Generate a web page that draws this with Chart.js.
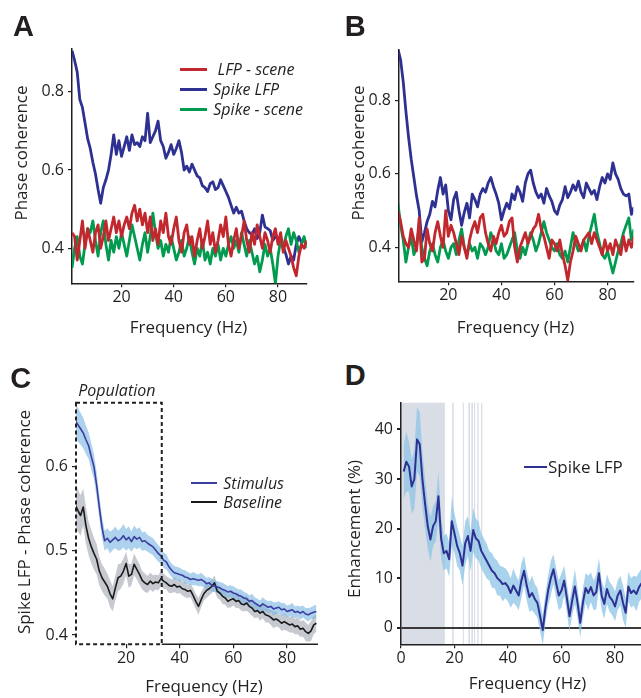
<!DOCTYPE html>
<html>
<head>
<meta charset="utf-8">
<title>Phase coherence</title>
<script src="https://cdn.jsdelivr.net/npm/chart.js@4.4.1/dist/chart.umd.min.js"></script>
<style>
  body { margin: 0; width: 641px; height: 698px; overflow: hidden; background: #fff; position: relative;
         font-family: 'Open Sans', sans-serif; color: #231f20; }
  canvas { position: absolute; }
  .lbl { position: absolute; white-space: pre; line-height: 1; }
  .letter { font-family: 'Liberation Sans', Arial, sans-serif; font-weight: bold; font-size: 29px; }
  .title { font-size: 17px; }
  .ytitle { transform: translate(-50%, -50%) rotate(-90deg); }
  .xtitle { transform: translateX(-50%); }
  .leg { font-size: 16px; font-style: italic; }
  .swatch { position: absolute; }
</style>
</head>
<body>

<canvas id="chartA" width="320" height="280" style="left:0;top:38px"></canvas>
<canvas id="chartB" width="311" height="280" style="left:330px;top:40px"></canvas>
<canvas id="chartC" width="322" height="290" style="left:0;top:392px"></canvas>
<canvas id="chartD" width="320" height="290" style="left:330px;top:392px"></canvas>

<!-- panel letters -->
<div class="lbl letter" style="left:13px;top:12.2px">A</div>
<div class="lbl letter" style="left:344.7px;top:12.2px">B</div>
<div class="lbl letter" style="left:10.2px;top:363.8px">C</div>
<div class="lbl letter" style="left:344.7px;top:360.5px">D</div>

<!-- axis titles -->
<div class="lbl title ytitle" style="left:20px;top:152.8px">Phase coherence</div>
<div class="lbl title xtitle" style="left:188.5px;top:317.7px">Frequency (Hz)</div>
<div class="lbl title ytitle" style="left:356.7px;top:153px">Phase coherence</div>
<div class="lbl title xtitle" style="left:515.5px;top:317.7px">Frequency (Hz)</div>
<div class="lbl title ytitle" style="left:22.7px;top:521.5px">Spike LFP - Phase coherence</div>
<div class="lbl title xtitle" style="left:204px;top:676.9px">Frequency (Hz)</div>
<div class="lbl title ytitle" style="left:352.5px;top:529px">Enhancement (%)</div>
<div class="lbl title xtitle" style="left:527.5px;top:674.4px">Frequency (Hz)</div>

<!-- legends -->
<div class="swatch" style="left:180px;top:68px;width:27px;height:3px;background:#c1272d"></div>
<div class="swatch" style="left:180px;top:88px;width:27px;height:3px;background:#2e3192"></div>
<div class="swatch" style="left:180px;top:108px;width:27px;height:3px;background:#009b4f"></div>
<div class="lbl leg" style="left:213.3px;top:61.3px"> LFP - scene</div>
<div class="lbl leg" style="left:213.3px;top:81.3px">Spike LFP</div>
<div class="lbl leg" style="left:213.3px;top:101.3px">Spike - scene</div>

<div class="lbl leg" style="left:78.3px;top:382.2px">Population</div>
<div class="swatch" style="left:190.7px;top:481.7px;width:26.6px;height:2px;background:#3b3ea0"></div>
<div class="swatch" style="left:190.7px;top:500.7px;width:26.6px;height:2px;background:#1a1a1a"></div>
<div class="lbl leg" style="left:223.3px;top:474.5px">Stimulus</div>
<div class="lbl leg" style="left:223.3px;top:493.5px">Baseline</div>

<div class="swatch" style="left:524px;top:466px;width:22.7px;height:1.5px;background:#2e3192"></div>
<div class="lbl title" style="left:548px;top:457.6px">Spike LFP</div>

<script>
// Frequency grid (Hz), shared by every panel
const freq = [1,2,3,4,5,6,7,8,9,10,11,12,13,14,15,16,17,18,19,20,21,22,23,24,25,26,27,28,29,30,
  31,32,33,34,35,36,37,38,39,40,41,42,43,44,45,46,47,48,49,50,51,52,53,54,55,56,57,58,59,60,
  61,62,63,64,65,66,67,68,69,70,71,72,73,74,75,76,77,78,79,80,81,82,83,84,85,86,87,88,89,90,91];

// Panel A - single session
const spikeLfpA = [0.905,0.88,0.85,0.78,0.76,0.72,0.68,0.655,0.62,0.59, 0.55,0.515,0.555,0.575,0.60,0.64,0.69,0.64,0.675,0.635,
  0.66,0.685,0.65,0.69,0.665,0.67,0.66,0.685,0.675,0.745, 0.67,0.685,0.70,0.725,0.675,0.66,0.63,0.645,0.665,0.64,
  0.655,0.675,0.645,0.60,0.61,0.595,0.615,0.60,0.585,0.58, 0.56,0.555,0.545,0.565,0.57,0.55,0.555,0.575,0.56,0.545,
  0.53,0.51,0.49,0.505,0.49,0.495,0.47,0.45,0.44,0.435, 0.45,0.425,0.44,0.485,0.455,0.45,0.445,0.42,0.43,0.425,
  0.43,0.405,0.385,0.36,0.38,0.37,0.41,0.43,0.415,0.42, 0.41];
const lfpSceneA = [0.44,0.43,0.37,0.42,0.47,0.40,0.45,0.42,0.39,0.44, 0.46,0.40,0.43,0.47,0.42,0.45,0.48,0.44,0.47,0.43,
  0.46,0.48,0.45,0.49,0.51,0.47,0.50,0.46,0.49,0.44, 0.48,0.42,0.45,0.41,0.47,0.44,0.49,0.43,0.41,0.45,
  0.48,0.42,0.39,0.44,0.46,0.41,0.43,0.38,0.42,0.45, 0.40,0.43,0.47,0.41,0.44,0.39,0.42,0.46,0.43,0.48,
  0.41,0.38,0.42,0.45,0.40,0.43,0.47,0.42,0.39,0.44, 0.41,0.46,0.43,0.40,0.44,0.42,0.39,0.43,0.45,0.41,
  0.44,0.39,0.42,0.40,0.38,0.35,0.33,0.38,0.41,0.40, 0.42];
const spikeSceneA = [0.35,0.40,0.43,0.38,0.36,0.41,0.45,0.44,0.47,0.42, 0.38,0.44,0.47,0.41,0.37,0.42,0.39,0.43,0.40,0.44,
  0.41,0.38,0.42,0.46,0.43,0.40,0.37,0.41,0.44,0.39, 0.43,0.49,0.44,0.40,0.42,0.38,0.41,0.39,0.43,0.40,
  0.37,0.39,0.42,0.38,0.40,0.43,0.39,0.36,0.40,0.38, 0.42,0.37,0.39,0.36,0.40,0.38,0.41,0.37,0.40,0.38,
  0.41,0.43,0.40,0.42,0.39,0.44,0.41,0.38,0.42,0.39, 0.36,0.38,0.34,0.37,0.41,0.38,0.40,0.36,0.31,0.38,
  0.42,0.40,0.43,0.45,0.41,0.44,0.42,0.39,0.41,0.43, 0.40];

// Panel B - second session
const spikeLfpB = [0.94,0.91,0.85,0.77,0.70,0.64,0.59,0.54,0.50,0.415, 0.44,0.47,0.49,0.525,0.51,0.555,0.59,0.545,0.57,0.50,
  0.475,0.53,0.55,0.50,0.46,0.495,0.52,0.48,0.545,0.53, 0.51,0.545,0.56,0.55,0.575,0.59,0.565,0.545,0.52,0.475,
  0.50,0.52,0.505,0.545,0.53,0.565,0.55,0.525,0.575,0.60, 0.61,0.575,0.55,0.535,0.545,0.52,0.56,0.54,0.525,0.50,
  0.49,0.515,0.53,0.565,0.535,0.55,0.57,0.555,0.58,0.55, 0.535,0.575,0.56,0.545,0.555,0.53,0.565,0.59,0.575,0.60,
  0.585,0.63,0.60,0.585,0.56,0.545,0.54,0.545,0.49,0.51, 0.50];
const lfpSceneB = [0.50,0.47,0.43,0.41,0.40,0.45,0.42,0.39,0.48,0.36, 0.37,0.45,0.41,0.39,0.44,0.47,0.43,0.40,0.50,0.43,
  0.46,0.44,0.41,0.38,0.43,0.40,0.37,0.42,0.45,0.47, 0.44,0.48,0.49,0.44,0.41,0.39,0.43,0.41,0.44,0.46,
  0.43,0.44,0.47,0.48,0.40,0.36,0.40,0.42,0.44,0.41, 0.43,0.45,0.46,0.49,0.45,0.43,0.40,0.37,0.42,0.41,
  0.39,0.42,0.38,0.35,0.31,0.36,0.39,0.43,0.41,0.39, 0.42,0.43,0.44,0.41,0.44,0.42,0.40,0.38,0.42,0.39,
  0.41,0.38,0.42,0.40,0.38,0.43,0.39,0.42,0.40,0.43, 0.41];
const spikeSceneB = [0.52,0.46,0.42,0.36,0.40,0.43,0.38,0.40,0.46,0.40, 0.37,0.35,0.39,0.41,0.38,0.36,0.40,0.42,0.39,0.37,
  0.40,0.41,0.38,0.42,0.45,0.40,0.38,0.41,0.39,0.40, 0.37,0.41,0.40,0.38,0.40,0.44,0.42,0.39,0.38,0.41,
  0.37,0.38,0.40,0.42,0.44,0.39,0.37,0.40,0.38,0.41, 0.44,0.42,0.39,0.41,0.44,0.47,0.44,0.42,0.40,0.39,
  0.41,0.38,0.37,0.39,0.36,0.40,0.44,0.41,0.39,0.40, 0.42,0.39,0.43,0.46,0.49,0.44,0.41,0.38,0.37,0.39,
  0.36,0.33,0.36,0.39,0.41,0.44,0.46,0.48,0.42,0.45, 0.44];

// Panel C - population mean and SEM
const stimulusC = [0.655,0.65,0.645,0.64,0.632,0.625,0.612,0.60,0.578,0.552, 0.528,0.512,0.515,0.51,0.513,0.516,0.512,0.514,0.518,0.513,
  0.516,0.511,0.517,0.514,0.516,0.511,0.512,0.509,0.507,0.505, 0.501,0.497,0.494,0.489,0.487,0.481,0.477,0.474,0.473,0.472,
  0.471,0.469,0.468,0.466,0.467,0.466,0.465,0.466,0.464,0.461, 0.462,0.459,0.458,0.457,0.456,0.454,0.453,0.451,0.452,0.450,
  0.449,0.447,0.446,0.444,0.443,0.440,0.441,0.438,0.436,0.434, 0.437,0.435,0.433,0.434,0.431,0.432,0.433,0.430,0.431,0.428,
  0.429,0.430,0.427,0.428,0.426,0.428,0.425,0.424,0.426,0.427, 0.428];
const stimulusSemC = [0.020,0.020,0.019,0.018,0.017,0.016,0.016,0.015,0.015,0.014, 0.013,0.012,0.012,0.013,0.012,0.013,0.012,0.013,0.014,0.013,
  0.013,0.012,0.013,0.012,0.012,0.011,0.011,0.010,0.010,0.010, 0.010,0.010,0.009,0.009,0.009,0.008,0.008,0.008,0.008,0.008,
  0.007,0.008,0.007,0.007,0.008,0.007,0.007,0.008,0.007,0.007, 0.007,0.008,0.007,0.007,0.007,0.008,0.007,0.007,0.007,0.008,
  0.007,0.007,0.008,0.007,0.007,0.007,0.008,0.007,0.007,0.007, 0.008,0.007,0.007,0.007,0.008,0.007,0.007,0.008,0.007,0.007,
  0.007,0.008,0.007,0.007,0.008,0.007,0.007,0.008,0.007,0.008, 0.008];
const baselineC = [0.555,0.548,0.542,0.552,0.530,0.515,0.505,0.497,0.490,0.476, 0.468,0.463,0.458,0.449,0.443,0.456,0.468,0.470,0.476,0.485,
  0.470,0.472,0.484,0.478,0.472,0.465,0.462,0.460,0.464,0.461, 0.463,0.462,0.467,0.464,0.462,0.459,0.458,0.460,0.457,0.458,
  0.455,0.454,0.452,0.453,0.447,0.440,0.434,0.442,0.449,0.453, 0.455,0.458,0.462,0.452,0.450,0.446,0.444,0.440,0.442,0.443,
  0.440,0.441,0.437,0.436,0.438,0.434,0.432,0.428,0.429,0.426, 0.428,0.424,0.423,0.421,0.418,0.419,0.417,0.414,0.416,0.414,
  0.412,0.413,0.410,0.411,0.407,0.408,0.404,0.402,0.405,0.412, 0.414];
const baselineSemC = [0.028,0.025,0.024,0.022,0.022,0.020,0.020,0.019,0.018,0.017, 0.016,0.016,0.015,0.016,0.015,0.015,0.016,0.015,0.015,0.014,
  0.014,0.013,0.013,0.012,0.012,0.011,0.011,0.010,0.010,0.010, 0.009,0.009,0.009,0.009,0.008,0.009,0.008,0.009,0.008,0.008,
  0.008,0.009,0.008,0.008,0.009,0.009,0.010,0.009,0.008,0.009, 0.008,0.008,0.009,0.008,0.008,0.009,0.008,0.008,0.009,0.008,
  0.008,0.009,0.008,0.008,0.009,0.008,0.009,0.008,0.008,0.009, 0.008,0.009,0.008,0.009,0.010,0.009,0.008,0.009,0.010,0.009,
  0.009,0.010,0.009,0.010,0.009,0.010,0.011,0.010,0.012,0.011, 0.010];
const populationHz = [1.3, 33.3];   // dashed "Population" window

// Panel D - enhancement (%) with SEM and significant frequencies
const enhancementD = [31.5,33.5,32.5,28.5,30,38,37,30,25,20.5, 17.8,20.5,21.5,26.5,18,15,15.5,13.8,21.5,19,
  16.5,15,12.5,17,18.5,15.5,19.7,18,17.5,15.5, 14.5,13.5,12.5,11.5,11,10,9.5,8.8,9,8.3,
  7,8.5,7.5,6.5,9.5,11.5,8.5,6.2,7,5.8, 5,2.3,-0.5,4,7.5,10,11.8,9,6.5,7.5,
  9.5,6,2.3,5.5,8.3,5,1,5,8,7, 8.2,6.5,7.2,11,6.5,4.8,7.8,6.2,5.5,4.3,
  6.5,7.5,5,3,8.3,7,7.5,6.8,8.2,9, 7.5];
const enhancementSemD = [5.5,6,5,5.5,6,6.5,6.5,5.5,5,4.5, 4.5,4,4,5,4,3.5,3.5,3.5,5,4,
  4,3.5,4,4.5,4,4,4.5,4,4,3.5, 3.5,3.5,3,3.5,3,3.5,3,3.5,3,3,
  3,3.5,3,3,3.5,3,3,3,3.5,3, 3,3,3,3,3,3.5,3,3,3,3.5,
  3,3,3,3,3.5,3,3,3,3,3.5, 3,3,3.5,3,3,3,3,3,3,3,
  3,3,3.5,3,3,3,3,3.5,3,3, 3];
const sigBandsD = [[0, 16.4], [19.1, 19.7], [23.1, 23.5], [25.2, 25.8], [26.3, 26.9], [27.3, 27.7], [28.5, 29.0], [29.9, 30.4]];

// Tick values
const freqTicks = [20, 40, 60, 80];
const freqTicksD = [0, 20, 40, 60, 80];
const cohTicksAB = [0.4, 0.6, 0.8];
const cohTicksC = [0.4, 0.5, 0.6];
const enhTicksD = [0, 10, 20, 30, 40];

const axisColor = '#231f20';
const tickFont = { family: "'Open Sans', sans-serif", size: 16 };

function toPoints(vals) {
    return freq.map((f, i) => ({ x: f, y: vals[i] }));
}

function shifted(vals, sem, sign) {
    return freq.map((f, i) => ({ x: f, y: vals[i] + sign * sem[i] }));
}

// Linear axis with fixed thickness and ticks taken from a list
function axis(min, max, tickVals, size, vertical, extra) {
    const opts = {
        type: 'linear', min: min, max: max,
        border: { color: axisColor, width: 1.5 },
        grid: { drawOnChartArea: false, drawTicks: true, tickLength: 4, color: axisColor, tickColor: axisColor, lineWidth: 1.2 },
        ticks: { color: axisColor, font: tickFont, padding: vertical ? 4 : 1, maxRotation: 0, autoSkip: false,
                 callback: v => String(v) },
        afterBuildTicks: s => { s.ticks = tickVals.map(v => ({ value: v })); },
        afterFit: s => {
            if (vertical) s.width = size; else s.height = size;
            s.paddingTop = s.paddingBottom = s.paddingLeft = s.paddingRight = 0;
        }
    };
    return Object.assign(opts, extra || {});
}

function line(label, vals, color, width) {
    return { label: label, data: toPoints(vals), borderColor: color, borderWidth: width,
             borderJoinStyle: 'round', pointRadius: 0, tension: 0, fill: false };
}

// Grey significance shading for panel D
const shadePlugin = {
    id: 'shade',
    beforeDraw(chart, args, opts) {
        const { ctx, chartArea, scales: { x } } = chart;
        ctx.save();
        ctx.fillStyle = opts.color;
        opts.bands.forEach(([a, b]) => {
            const x0 = x.getPixelForValue(a), x1 = x.getPixelForValue(b);
            ctx.fillRect(x0, chartArea.top, x1 - x0, chartArea.bottom - chartArea.top);
        });
        ctx.restore();
    }
};

// Dashed population window for panel C, plus the solid axis to its right
const boxPlugin = {
    id: 'popBox',
    afterDatasetsDraw(chart, args, opts) {
        const { ctx, chartArea, scales: { x } } = chart;
        const x0 = x.getPixelForValue(opts.range[0]), x1 = x.getPixelForValue(opts.range[1]);
        ctx.save();
        ctx.strokeStyle = axisColor;
        ctx.lineWidth = 1.5;
        ctx.beginPath();
        ctx.moveTo(x1, chartArea.bottom);
        ctx.lineTo(chartArea.right, chartArea.bottom);
        ctx.stroke();
        ctx.lineWidth = 2;
        ctx.setLineDash([4, 3]);
        ctx.strokeRect(x0, chartArea.top, x1 - x0, chartArea.bottom - chartArea.top);
        ctx.restore();
    }
};

function baseOptions(padding) {
    return {
        responsive: false, animation: false,
        layout: { padding: padding },
        plugins: { legend: { display: false }, tooltip: { enabled: false } }
    };
}

// Panel A
const optsA = baseOptions({ left: 0, top: 10.3, right: 13.3, bottom: 4.7 });
optsA.scales = { x: axis(1, 91, freqTicks, 30, false), y: axis(0.3106, 0.911, cohTicksAB, 72, true) };
new Chart(document.getElementById('chartA'), {
    type: 'line',
    data: { datasets: [
        line('LFP - scene', lfpSceneA, '#c1272d', 2.8),
        line('Spike - scene', spikeSceneA, '#009b4f', 2.8),
        line('Spike LFP', spikeLfpA, '#2e3192', 2.8)
    ] },
    options: optsA
});

// Panel B
const optsB = baseOptions({ left: 0, top: 10, right: 7.7, bottom: 8.7 });
optsB.scales = { x: axis(1.4, 89.7, freqTicks, 30, false), y: axis(0.3075, 0.937, cohTicksAB, 69, true) };
new Chart(document.getElementById('chartB'), {
    type: 'line',
    data: { datasets: [
        line('LFP - scene', lfpSceneB, '#c1272d', 2.8),
        line('Spike - scene', spikeSceneB, '#009b4f', 2.8),
        line('Spike LFP', spikeLfpB, '#2e3192', 2.8)
    ] },
    options: optsB
});

// Panel C
const optsC = baseOptions({ left: 0, top: 10.7, right: 4, bottom: 7.7 });
optsC.scales = {
    x: axis(1.3, 91.6, freqTicks, 30, false, {}),
    y: axis(0.389, 0.676, cohTicksC, 76, true, {})
};
optsC.scales.x.border = { display: false };
optsC.scales.y.border = { display: false };
optsC.plugins.popBox = { range: populationHz };
new Chart(document.getElementById('chartC'), {
    type: 'line',
    data: { datasets: [
        line('Stimulus', stimulusC, '#3b3ea0', 1.6),
        line('Baseline', baselineC, '#1a1a1a', 1.6),
        { data: shifted(stimulusC, stimulusSemC, 1), borderWidth: 0, pointRadius: 0, fill: false },
        { data: shifted(stimulusC, stimulusSemC, -1), borderWidth: 0, pointRadius: 0, fill: '-1',
          backgroundColor: 'rgba(120, 180, 225, 0.6)' },
        { data: shifted(baselineC, baselineSemC, 1), borderWidth: 0, pointRadius: 0, fill: false },
        { data: shifted(baselineC, baselineSemC, -1), borderWidth: 0, pointRadius: 0, fill: '-1',
          backgroundColor: 'rgba(160, 166, 176, 0.6)' }
    ] },
    options: optsC,
    plugins: [boxPlugin]
});

// Panel D
const optsD = baseOptions({ left: 0, top: 10.7, right: 8.25, bottom: 7.7 });
optsD.scales = {
    x: axis(0, 90, freqTicksD, 30, false),
    y: axis(-3.35, 45.4, enhTicksD, 71, true, { z: 1 })
};
optsD.scales.y.grid = { drawOnChartArea: true, drawTicks: true, tickLength: 4, tickColor: axisColor, lineWidth: 2,
                        color: c => (c.tick && c.tick.value === 0) ? '#3a3a3a' : 'rgba(0,0,0,0)' };
optsD.plugins.shade = { bands: sigBandsD, color: '#d9dde6' };
new Chart(document.getElementById('chartD'), {
    type: 'line',
    data: { datasets: [
        line('Spike LFP', enhancementD, '#2e3192', 2),
        { data: shifted(enhancementD, enhancementSemD, 1), borderWidth: 0, pointRadius: 0, fill: false },
        { data: shifted(enhancementD, enhancementSemD, -1), borderWidth: 0, pointRadius: 0, fill: '-1',
          backgroundColor: 'rgba(140, 195, 230, 0.75)' }
    ] },
    options: optsD,
    plugins: [shadePlugin]
});
</script>
</body>
</html>
